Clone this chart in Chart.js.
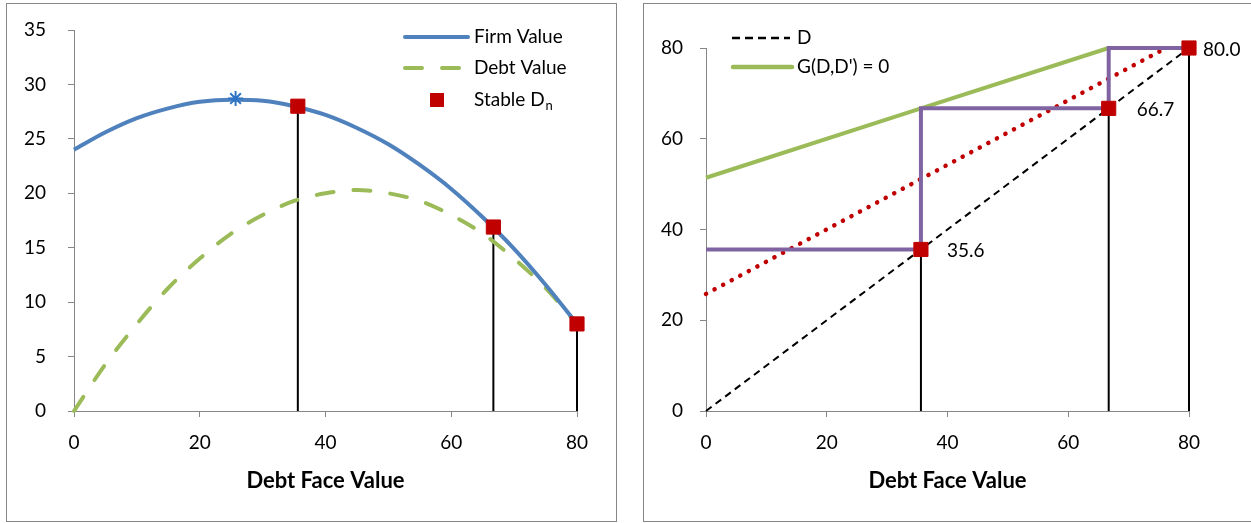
<!DOCTYPE html>
<html><head><meta charset="utf-8">
<script src="https://cdn.jsdelivr.net/npm/chart.js@4.4.0/dist/chart.umd.min.js"></script>
<style>
html,body{margin:0;padding:0;background:#fff;overflow:hidden;width:1251px;height:523px;position:relative;}
.box{position:absolute;border:1px solid #878787;background:#fff;overflow:hidden;}
#b1{left:6px;top:3px;width:609px;height:517px;}
#b2{left:643px;top:3px;width:640px;height:517px;}
canvas{display:block;}
</style></head>
<body>
<div class="box" id="b1"><canvas id="c1" width="609" height="517"></canvas></div>
<div class="box" id="b2"><canvas id="c2" width="640" height="517"></canvas></div>
<script>
// ---------- data ----------
const debtFace   = [0,5,10,15,20,25,30,35,40,45,50,55,60,65,70,75,80];
const firmValue  = [24.0,25.6,26.9,27.8,28.4,28.6,28.5,28.0,27.2,26.0,24.5,22.6,20.4,17.8,14.9,11.6,8.0];
const debtValue  = [0,4.3,8.0,11.3,14.0,16.3,18.0,19.3,20.0,20.3,20.0,19.3,18.0,16.3,14.0,11.3,8.0];
const firmPeakX  = [25.7];
const firmPeakY  = [28.7];
const stableD    = [35.6, 66.7, 80.0];
const stableFirm = [28.0, 16.9, 8.0];
const stableLabels = ['35.6','66.7','80.0'];

const diagX  = [0, 80];
const diagY  = [0, 80];
const gX     = [0, 35.6, 66.7];
const gY     = [51.4, 66.7, 80.0];
const redX   = [0, 75.2];
const redY   = [25.8, 79.3];
const cobX   = [0, 35.6, 35.6, 66.7, 66.7, 80.0];
const cobY   = [35.6, 35.6, 66.7, 66.7, 80.0, 80.0];

const leftYTicks  = [0,5,10,15,20,25,30,35];
const rightYTicks = [0,20,40,60,80];
const xTicks      = [0,20,40,60,80];

// ---------- style ----------
const FONT = 'Lato';
const BLUE = '#4F81BD', GREEN = '#9BBB59', RED = '#C00000', PURPLE = '#8064A2', AXIS = '#868686';
const pts = (xs, ys) => xs.map((x, i) => ({x, y: ys[i]}));

function verticals(xs, ys) {
  return xs.map((x, i) => ({
    data: [{x, y: 0}, {x, y: ys[i]}], borderColor: '#000', borderWidth: 2,
    pointRadius: 0, showLine: true, order: 9, clip: false
  }));
}
function markers(xs, ys) {
  return {data: pts(xs, ys), showLine: false, pointStyle: 'rect', pointRadius: 10, pointHoverRadius: 10,
    backgroundColor: RED, borderColor: RED, borderWidth: 1, order: 0, clip: false};
}
function scales(ymax, ylabelPad, yWidth, ticksList) {
  return {
    x: {type: 'linear', min: 0, max: 80,
      afterBuildTicks: s => { s.ticks = xTicks.map(v => ({value: v})); },
      afterFit: s => { s.height = 110; },
      grid: {display: true, drawOnChartArea: false, drawTicks: true, tickLength: 6, color: AXIS},
      border: {display: true, color: AXIS, width: 1},
      ticks: {color: '#000', font: {family: FONT, size: 19}, padding: 14, maxRotation: 0},
      title: {display: true, text: 'Debt Face Value', color: '#000', font: {family: FONT, size: 22, weight: 'bold'}, padding: {top: 0, bottom: 27}}
    },
    y: {type: 'linear', min: 0, max: ymax,
      afterBuildTicks: s => { s.ticks = ticksList.map(v => ({value: v})); },
      afterFit: s => { s.width = yWidth; s.paddingTop = 0; s.paddingBottom = 0; },
      grid: {display: true, drawOnChartArea: false, drawTicks: true, tickLength: 6, color: AXIS},
      border: {display: true, color: AXIS, width: 1},
      ticks: {color: '#000', font: {family: FONT, size: 19}, padding: ylabelPad}
    }
  };
}

// custom legend drawer
function legendPlugin(items) {
  return {
    id: 'customLegend',
    afterDraw(chart) {
      const ctx = chart.ctx;
      ctx.save();
      ctx.textBaseline = 'middle';
      items.forEach(it => {
        ctx.save();
        if (it.kind === 'line') {
          ctx.strokeStyle = it.color; ctx.lineWidth = it.width; ctx.lineCap = it.cap || 'butt';
          ctx.setLineDash(it.dash || []);
          ctx.beginPath(); ctx.moveTo(it.x1, it.y); ctx.lineTo(it.x2, it.y); ctx.stroke();
        } else if (it.kind === 'rect') {
          ctx.fillStyle = it.color; ctx.fillRect(it.cx - 7, it.y - 7, 14, 14);
        }
        ctx.restore();
        ctx.fillStyle = '#000';
        ctx.font = '19px ' + FONT;
        ctx.fillText(it.text, it.tx, it.y);
        if (it.sub) {
          const w = ctx.measureText(it.text).width;
          ctx.font = '13px ' + FONT;
          ctx.fillText(it.sub, it.tx + w + 1, it.y + 6);
        }
      });
      ctx.restore();
    }
  };
}

// value labels next to markers
function labelPlugin(dsIndex, labels, offsets) {
  return {
    id: 'valLabels',
    afterDatasetsDraw(chart) {
      const meta = chart.getDatasetMeta(dsIndex);
      const ctx = chart.ctx;
      ctx.save();
      ctx.font = '19px ' + FONT; ctx.fillStyle = '#000';
      ctx.textBaseline = 'middle'; ctx.textAlign = 'left';
      meta.data.forEach((p, i) => {
        ctx.fillText(labels[i], p.x + offsets[i][0], p.y + offsets[i][1]);
      });
      ctx.restore();
    }
  };
}

// ---------- left chart ----------
new Chart(document.getElementById('c1'), {
  type: 'scatter',
  data: {datasets: [
    markers(stableD, stableFirm),
    {data: pts(firmPeakX, firmPeakY), showLine: false, pointStyle: 'star', pointRadius: 7.5, borderColor: '#2E75C6', borderWidth: 2, backgroundColor: '#2E75C6', order: 1, clip: false},
    {data: pts(debtFace, firmValue), showLine: true, borderColor: BLUE, borderWidth: 4, pointRadius: 0, cubicInterpolationMode: 'monotone', order: 2, clip: false},
    {data: pts(debtFace, debtValue), showLine: true, borderColor: GREEN, borderWidth: 4, borderDash: [17, 20], borderCapStyle: 'round', pointRadius: 0, cubicInterpolationMode: 'monotone', order: 3, clip: false},
    ...verticals(stableD, stableFirm)
  ]},
  options: {
    responsive: false, animation: false, events: [],
    layout: {padding: {top: 26, right: 39, left: 0, bottom: 0}},
    plugins: {legend: {display: false}, tooltip: {enabled: false}},
    scales: scales(35, 22, 67, leftYTicks)
  },
  plugins: [legendPlugin([
    {kind: 'line', x1: 398, x2: 461, y: 33, color: BLUE, width: 4, cap: 'round', text: 'Firm Value', tx: 467},
    {kind: 'line', x1: 398, x2: 461, y: 64, color: GREEN, width: 4, cap: 'round', dash: [17, 20], text: 'Debt Value', tx: 467},
    {kind: 'rect', cx: 430, y: 96, color: RED, text: 'Stable D', sub: 'n', tx: 467}
  ])]
});

// ---------- right chart ----------
new Chart(document.getElementById('c2'), {
  type: 'scatter',
  data: {datasets: [
    markers(stableD, stableD),
    {data: pts(cobX, cobY), showLine: true, borderColor: PURPLE, borderWidth: 4, pointRadius: 0, order: 1, clip: false},
    {data: pts(gX, gY), showLine: true, borderColor: GREEN, borderWidth: 4, pointRadius: 0, order: 2, clip: false},
    {data: pts(redX, redY), showLine: true, borderColor: RED, borderWidth: 4.5, borderDash: [0.1, 9.6], borderCapStyle: 'round', pointRadius: 0, order: 3, clip: false},
    {data: pts(diagX, diagY), showLine: true, borderColor: '#000', borderWidth: 2, borderDash: [7, 5], pointRadius: 0, order: 4, clip: false},
    ...verticals(stableD, stableD)
  ]},
  options: {
    responsive: false, animation: false, events: [],
    layout: {padding: {top: 44, right: 95, left: 0, bottom: 0}},
    plugins: {legend: {display: false}, tooltip: {enabled: false}},
    scales: scales(80, 17, 62, rightYTicks)
  },
  plugins: [legendPlugin([
    {kind: 'line', x1: 88, x2: 146, y: 34, color: '#000', width: 2.5, dash: [8, 5], text: 'D', tx: 153},
    {kind: 'line', x1: 89, x2: 148, y: 63, color: GREEN, width: 4.5, cap: 'round', text: "G(D,D') = 0", tx: 153}
  ]), labelPlugin(0, stableLabels, [[26, 1], [28, 2], [14, 2]])]
});
</script>
</body></html>
